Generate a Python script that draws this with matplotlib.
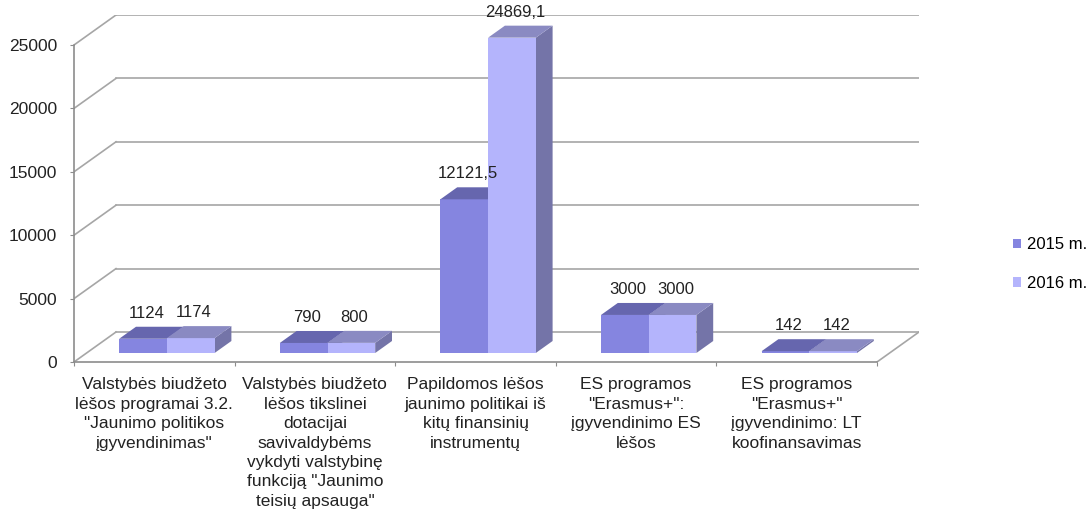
import matplotlib.pyplot as plt
from matplotlib.patches import Polygon, Patch

plt.rcParams['font.family'] = ['Liberation Sans', 'DejaVu Sans']

categories = [
    'Valstybės biudžeto\nlėšos programai 3.2.\n"Jaunimo politikos\nįgyvendinimas"',
    'Valstybės biudžeto\nlėšos tikslinei\ndotacijai\nsavivaldybėms\nvykdyti valstybinę\nfunkciją "Jaunimo\nteisių apsauga"',
    'Papildomos lėšos\njaunimo politikai iš\nkitų finansinių\ninstrumentų',
    'ES programos\n"Erasmus+":\nįgyvendinimo ES\nlėšos',
    'ES programos\n"Erasmus+"\nįgyvendinimo: LT\nkoofinansavimas',
]
series_names = ['2015 m.', '2016 m.']
values_2015 = [1124, 790, 12121.5, 3000, 142]
values_2016 = [1174, 800, 24869.1, 3000, 142]
yticks = [0, 5000, 10000, 15000, 20000, 25000]

# colours: front, top, side
colors = {
    '2015 m.': ('#8585e0', '#6666ae', '#6a6aa6'),
    '2016 m.': ('#b4b4fc', '#8a8ac2', '#7474a8'),
}

# oblique "3D" depth offset in data units
DX = 0.2615
DY = 2366
d0, d1 = 0.3, 0.7
w = 0.297
ymax = 25000

fig = plt.figure(figsize=(10.89, 5.12), dpi=100)
ax = fig.add_axes([74 / 1089, 150 / 512, 845 / 1089, 347 / 512])
ax.set_xlim(0, 5 + DX)
ax.set_ylim(0, ymax + DY)

grid_c = '#a6a6a6'
# back wall gridlines + left side wall diagonals
for t in yticks:
    ax.plot([DX, 5 + DX], [t + DY, t + DY], color=grid_c, lw=1.2, zorder=1)
    ax.plot([0, DX], [t, t + DY], color=grid_c, lw=1.2, zorder=1)
# floor right edge
ax.plot([5, 5 + DX], [0, DY], color=grid_c, lw=1.2, zorder=1)

z = 3
for i in range(len(categories)):
    center = i + 0.5
    for j, (name, vals) in enumerate(zip(series_names, [values_2015, values_2016])):
        v = vals[i]
        front, top, side = colors[name]
        xl = center - w + j * w
        xr = xl + w
        side_poly = Polygon([(xr + d0 * DX, d0 * DY), (xr + d1 * DX, d1 * DY),
                             (xr + d1 * DX, v + d1 * DY), (xr + d0 * DX, v + d0 * DY)],
                            closed=True, facecolor=side, edgecolor='none', zorder=z)
        ax.add_patch(side_poly)
        ax.bar(xl + d0 * DX, v, bottom=d0 * DY, width=w, align='edge',
               color=front, edgecolor='none', zorder=z + 0.1)
        top_poly = Polygon([(xl + d0 * DX, v + d0 * DY), (xr + d0 * DX, v + d0 * DY),
                            (xr + d1 * DX, v + d1 * DY), (xl + d1 * DX, v + d1 * DY)],
                           closed=True, facecolor=top, edgecolor='none', zorder=z + 0.2)
        ax.add_patch(top_poly)
        z += 1
        label = f'{v:g}'.replace('.', ',')
        ax.text(xl + w / 2 + d0 * DX + 0.02, v + d0 * DY + 2000, label, ha='center',
                va='center', fontsize=12, color='#222222', zorder=20)

# axes spines as the front axes
for s in ['top', 'right']:
    ax.spines[s].set_visible(False)
ax.spines['left'].set_bounds(0, ymax)
ax.spines['bottom'].set_bounds(0, 5)
ax.spines['left'].set_color('#8c8c8c')
ax.spines['bottom'].set_color('#8c8c8c')
ax.spines['left'].set_linewidth(1.2)
ax.spines['bottom'].set_linewidth(1.2)

ax.set_yticks(yticks)
ax.set_yticklabels([str(t) for t in yticks], fontsize=12.5, color='#222222')
ax.tick_params(axis='y', length=3, pad=9, color='#8c8c8c')
ax.set_xticks(range(len(categories) + 1))
ax.set_xticklabels([])
ax.set_xticks([i + 0.5 for i in range(len(categories))], minor=True)
ax.set_xticklabels(categories, minor=True, fontsize=12.5, color='#222222',
                   linespacing=1.37)
ax.tick_params(axis='x', which='major', length=3, color='#8c8c8c')
ax.tick_params(axis='x', which='minor', length=0, pad=11)

handles = [Patch(facecolor=colors[n][0], edgecolor='none') for n in series_names]
fig.legend(handles, series_names, loc='center left', bbox_to_anchor=(1006 / 1089, 1 - 264 / 512),
           frameon=False, fontsize=12, handlelength=0.5, handleheight=0.5,
           handletextpad=0.35, labelspacing=1.4, borderaxespad=0)

fig.savefig('out.png', dpi=100)
